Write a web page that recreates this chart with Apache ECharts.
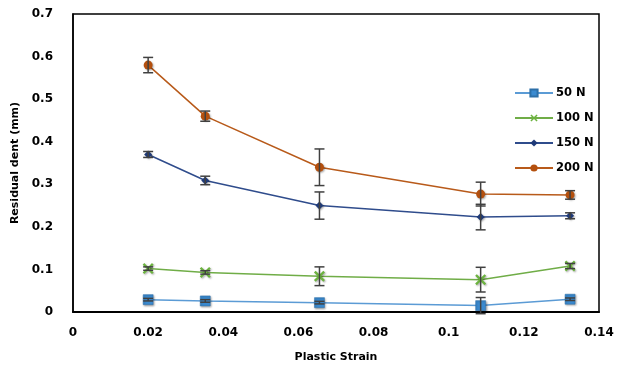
<!DOCTYPE html>
<html>
<head>
<meta charset="utf-8">
<script src="https://cdn.jsdelivr.net/npm/echarts@6/dist/echarts.min.js"></script>
<style>html,body{margin:0;padding:0;background:#fff}#c{width:624px;height:368px}</style>
</head>
<body>
<div id="c"></div>
<script>
var strain = [0.02, 0.0352, 0.0656, 0.1085, 0.1323];
var n50 = [0.029, 0.026, 0.022, 0.015, 0.030];
var n50err = [0.003, 0.003, 0.003, 0.019, 0.003];
var n100 = [0.102, 0.093, 0.084, 0.076, 0.108];
var n100err = [0.004, 0.004, 0.022, 0.029, 0.006];
var n150 = [0.370, 0.309, 0.250, 0.223, 0.226];
var n150err = [0.007, 0.010, 0.032, 0.030, 0.007];
var n200 = [0.580, 0.460, 0.340, 0.277, 0.275];
var n200err = [0.018, 0.012, 0.043, 0.028, 0.010];
var names = ['50 N', '100 N', '150 N', '200 N'];
var xTicks = [0, 0.02, 0.04, 0.06, 0.08, 0.1, 0.12, 0.14];
var yTicks = [0, 0.1, 0.2, 0.3, 0.4, 0.5, 0.6, 0.7];

function pts(vals) { return strain.map(function (x, i) { return [x, vals[i]]; }); }
function errPts(vals, errs) { return strain.map(function (x, i) { return [x, vals[i] - errs[i], vals[i] + errs[i]]; }); }

var xPath = 'path://M0,1.5L1.5,0L5,3.5L8.5,0L10,1.5L6.5,5L10,8.5L8.5,10L5,6.5L1.5,10L0,8.5L3.5,5Z';
var font = 'DejaVu Sans';

function errSeries(vals, errs) {
  return {
    type: 'custom',
    data: errPts(vals, errs),
    z: 5,
    silent: true,
    renderItem: function (params, api) {
      var x = api.value(0);
      var lo = api.coord([x, api.value(1)]);
      var hi = api.coord([x, api.value(2)]);
      var w = 5;
      var st = { stroke: '#404040', lineWidth: 1.5 };
      return {
        type: 'group',
        children: [
          { type: 'line', shape: { x1: lo[0], y1: lo[1], x2: hi[0], y2: hi[1] }, style: st },
          { type: 'line', shape: { x1: lo[0] - w, y1: lo[1], x2: lo[0] + w, y2: lo[1] }, style: st },
          { type: 'line', shape: { x1: hi[0] - w, y1: hi[1], x2: hi[0] + w, y2: hi[1] }, style: st }
        ]
      };
    }
  };
}

var shadow = { shadowColor: 'rgba(0,0,0,0.35)', shadowBlur: 2, shadowOffsetX: 1, shadowOffsetY: 1 };

var chart = echarts.init(document.getElementById('c'), null, { renderer: 'canvas' });
chart.setOption({
  animation: false,
  textStyle: { fontFamily: font },
  grid: { left: 73, right: 25, top: 14, bottom: 55, show: true, borderColor: '#000', borderWidth: 1.5, containLabel: false },
  legend: {
    orient: 'vertical',
    left: 514,
    top: 87,
    itemWidth: 38,
    itemHeight: 9,
    itemGap: 13,
    padding: 0,
    data: names,
    textStyle: { fontFamily: font, fontWeight: 'bold', fontSize: 11.5, color: '#000', padding: [0, 0, 0, -2] }
  },
  xAxis: {
    type: 'value', min: xTicks[0], max: xTicks[xTicks.length - 1], interval: 0.02,
    name: 'Plastic Strain', nameLocation: 'middle', nameGap: 40,
    nameTextStyle: { fontFamily: font, fontWeight: 'bold', fontSize: 11, color: '#000' },
    axisLine: { show: true, lineStyle: { color: '#000', width: 2 } },
    axisTick: { show: false },
    splitLine: { show: false },
    axisLabel: { fontFamily: font, fontWeight: 'bold', fontSize: 12, color: '#000', margin: 15 }
  },
  yAxis: {
    type: 'value', min: yTicks[0], max: yTicks[yTicks.length - 1], interval: 0.1,
    name: 'Residual dent (mm)', nameLocation: 'middle', nameGap: 45,
    nameTextStyle: { fontFamily: font, fontWeight: 'bold', fontSize: 11, color: '#000' },
    axisLine: { show: true, lineStyle: { color: '#000', width: 1.5 } },
    axisTick: { show: false },
    splitLine: { show: false },
    axisLabel: { fontFamily: font, fontWeight: 'bold', fontSize: 12, color: '#000', margin: 20 }
  },
  series: [
    { name: names[0], type: 'line', data: pts(n50), symbol: 'rect', symbolSize: 10,
      lineStyle: { color: '#5B9BD5', width: 1.5 },
      itemStyle: Object.assign({ color: '#3A8AD0', borderColor: '#2C6FA8', borderWidth: 0.5 }, shadow), z: 3 },
    { name: names[1], type: 'line', data: pts(n100), symbol: xPath, symbolSize: 11,
      lineStyle: { color: '#70AD47', width: 1.5 },
      itemStyle: Object.assign({ color: '#6CB33F' }, shadow), z: 3 },
    { name: names[2], type: 'line', data: pts(n150), symbol: 'diamond', symbolSize: 8,
      lineStyle: { color: '#2F4C8C', width: 1.5 },
      itemStyle: Object.assign({ color: '#1F3A78' }, shadow), z: 3 },
    { name: names[3], type: 'line', data: pts(n200), symbol: 'circle', symbolSize: 9,
      lineStyle: { color: '#B85A1A', width: 1.5 },
      itemStyle: Object.assign({ color: '#B4500E' }, shadow), z: 3 },
    errSeries(n50, n50err),
    errSeries(n100, n100err),
    errSeries(n150, n150err),
    errSeries(n200, n200err)
  ]
});
</script>
</body>
</html>
